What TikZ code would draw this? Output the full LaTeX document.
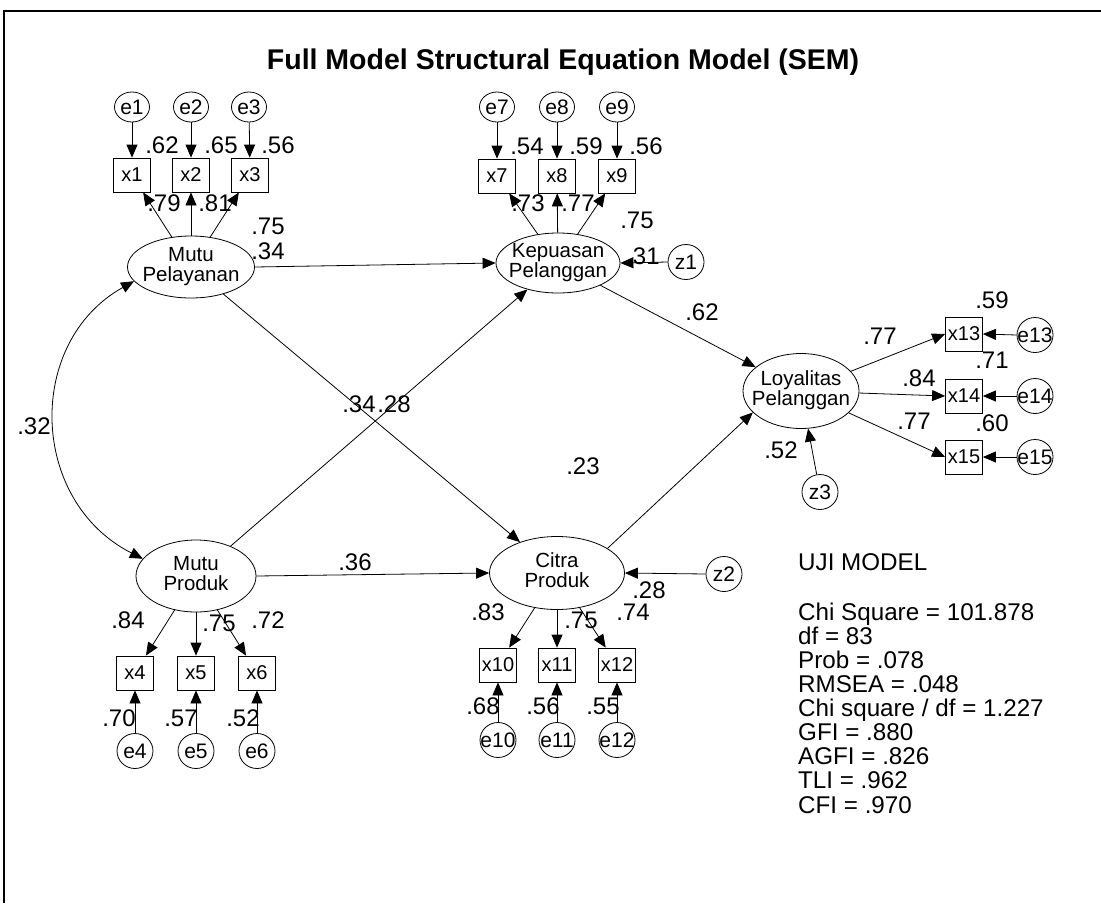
\documentclass[tikz,border=0pt]{standalone}
\usepackage{fontspec}
\setmainfont{Liberation Sans}
\usetikzlibrary{shapes.geometric,arrows.meta}
\newcommand\zb[1]{\makebox[0pt]{#1}}
\newcommand\lt[2]{\makebox[0pt]{\begin{tabular}{@{}c@{}}#1\\#2\end{tabular}}}
\begin{document}
\begin{tikzpicture}[x=1pt,y=-1pt,
  every node/.style={inner sep=0pt},
  lat/.style={ellipse,draw,line width=0.8pt,font=\fontsize{20.5}{18.5}\selectfont},
  obs/.style={rectangle,draw,line width=0.8pt,minimum width=37pt,minimum height=34pt,font=\fontsize{20}{24}\selectfont},
  err/.style={ellipse,draw,line width=0.8pt,minimum width=36pt,minimum height=35pt,font=\fontsize{21}{24}\selectfont},
  errt/.style={err,minimum width=35pt,minimum height=30pt},
  lab/.style={font=\fontsize{24}{24}\selectfont},
  arr/.style={line width=0.8pt,-{Triangle[length=13pt,width=11pt]}},
]
\useasboundingbox (0,0) rectangle (1101,903);
\draw[line width=2pt] (4,903) -- (4,11) -- (1101,11);
\node[font=\fontsize{28.5}{32}\selectfont\bfseries] (title) at (563,62) {Full Model Structural Equation Model (SEM)};

% Mutu Pelayanan group
\node[lat,minimum width=127pt,minimum height=62pt] (MP) at (191,267) {\lt{Mutu}{Pelayanan}};
\node[errt] (e1) at (132,107) {\zb{e1}};
\node[errt] (e2) at (191,107) {\zb{e2}};
\node[errt] (e3) at (249,107) {\zb{e3}};
\node[obs] (x1) at (132,175) {x1};
\node[obs] (x2) at (191,175) {x2};
\node[obs] (x3) at (250,175) {x3};
\foreach \i in {1,2,3}{\draw[arr] (e\i) -- (x\i); \draw[arr] (MP) -- (x\i);}

% Kepuasan group
\node[lat,minimum width=124pt,minimum height=60pt] (KP) at (558,263) {\lt{Kepuasan}{Pelanggan}};
\node[errt] (e7) at (497,107) {\zb{e7}};
\node[errt] (e8) at (557,107) {\zb{e8}};
\node[errt] (e9) at (617,107) {\zb{e9}};
\node[obs] (x7) at (497,176) {x7};
\node[obs] (x8) at (557,176) {x8};
\node[obs] (x9) at (617,176) {x9};
\foreach \i in {7,8,9}{\draw[arr] (e\i) -- (x\i); \draw[arr] (KP) -- (x\i);}
\node[err] (z1) at (686,262) {\zb{z1}};
\draw[arr] (z1.west) -- (KP.east);

% Loyalitas group
\node[lat,minimum width=116pt,minimum height=75pt] (LP) at (801,391) {\lt{Loyalitas}{Pelanggan}};
\node[obs] (x13) at (964,334) {x13};
\node[obs] (x14) at (964,396) {x14};
\node[obs] (x15) at (964,457) {x15};
\node[err] (e13) at (1035,335) {\zb{e13}};
\node[err] (e14) at (1035,396) {\zb{e14}};
\node[err] (e15) at (1035,457) {\zb{e15}};
\foreach \i in {13,14,15}{\draw[arr] (e\i.west) -- (x\i.east); \draw[arr] (LP) -- (x\i.west);}
\node[err] (z3) at (820,492) {\zb{z3}};
\draw[arr] (z3) -- (LP);

% Mutu Produk group
\node[lat,minimum width=120pt,minimum height=72pt] (MR) at (196,576) {\lt{Mutu}{Produk}};
\node[obs] (x4) at (135,673) {x4};
\node[obs] (x5) at (196,673) {x5};
\node[obs] (x6) at (257,673) {x6};
\node[err] (e4) at (135,751) {\zb{e4}};
\node[err] (e5) at (196,751) {\zb{e5}};
\node[err] (e6) at (257,751) {\zb{e6}};
\foreach \i in {4,5,6}{\draw[arr] (e\i) -- (x\i); \draw[arr] (MR) -- (x\i);}

% Citra Produk group
\node[lat,minimum width=135pt,minimum height=73pt] (CP) at (557,573) {\lt{Citra}{Produk}};
\node[obs] (x10) at (498,665) {x10};
\node[obs] (x11) at (557,665) {x11};
\node[obs] (x12) at (617,665) {x12};
\node[err] (e10) at (498,740) {\zb{e10}};
\node[err] (e11) at (557,740) {\zb{e11}};
\node[err] (e12) at (617,740) {\zb{e12}};
\foreach \i in {10,11,12}{\draw[arr] (e\i) -- (x\i); \draw[arr] (CP) -- (x\i);}
\node[err] (z2) at (724,574) {\zb{z2}};
\draw[arr] (z2.west) -- (CP.east);

% structural paths
\draw[arr] (MP.east) -- (KP.west);
\draw[arr] (MP) -- (CP);
\draw[arr] (MR) -- (KP);
\draw[arr] (MR.east) -- (CP.west);
\draw[arr] (KP) -- (LP);
\draw[arr] (CP.26) -- (LP.204);
\draw[line width=0.8pt,{Triangle[length=13pt,width=11pt]}-{Triangle[length=13pt,width=11pt]}]
  (MR.162) .. controls (29,501) and (25,342) .. (MP.194);

% labels
\node[lab] (l1) at (162,145) {.62};
\node[lab] (l2) at (221,145) {.65};
\node[lab] (l3) at (278,145) {.56};
\node[lab] (l4) at (164,203) {.79};
\node[lab] (l5) at (215,203) {.81};
\node[lab] (l6) at (268,226) {.75};
\node[lab] (l7) at (527,146) {.54};
\node[lab] (l8) at (586,146) {.59};
\node[lab] (l9) at (646,146) {.56};
\node[lab] (l10) at (528,203) {.73};
\node[lab] (l11) at (578,203) {.77};
\node[lab] (l12) at (637,220) {.75};
\node[lab] (l13) at (643,256) {.31};
\node[lab] (l14) at (992,300) {.59};
\node[lab] (l15) at (992,360) {.71};
\node[lab] (l16) at (992,423) {.60};
\node[lab] (l17) at (880,336) {.77};
\node[lab] (l18) at (919,378) {.84};
\node[lab] (l19) at (914,421) {.77};
\node[lab] (l20) at (781,450) {.52};
\node[lab] (l21) at (128,620) {.84};
\node[lab] (l22) at (219,623) {.75};
\node[lab] (l23) at (268,620) {.72};
\node[lab] (l24) at (119,718) {.70};
\node[lab] (l25) at (181,718) {.57};
\node[lab] (l26) at (243,718) {.52};
\node[lab] (l27) at (488,612) {.83};
\node[lab] (l28) at (581,620) {.75};
\node[lab] (l29) at (633,612) {.74};
\node[lab] (l30) at (649,590) {.28};
\node[lab] (l31) at (483,706) {.68};
\node[lab] (l32) at (543,706) {.56};
\node[lab] (l33) at (603,706) {.55};
\node[lab] (l34) at (268,251) {.34};
\node[lab] (l35) at (702,312) {.62};
\node[lab] (l36) at (359,404) {.34};
\node[lab] (l37) at (394,404) {.28};
\node[lab] (l38) at (583,466) {.23};
\node[lab] (l39) at (355,562) {.36};
\node[lab] (l40) at (34,426) {.32};

\node[anchor=north west,align=left,font=\fontsize{24.2}{24.1}\selectfont] (uji) at (798,553)
 {UJI MODEL\\[26pt]Chi Square = 101.878\\df = 83\\Prob = .078\\RMSEA = .048\\Chi square / df = 1.227\\GFI = .880\\AGFI = .826\\TLI = .962\\CFI = .970};
\end{tikzpicture}
\end{document}
